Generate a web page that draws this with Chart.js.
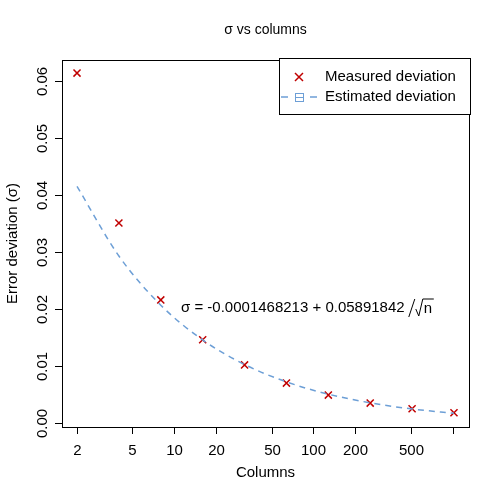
<!DOCTYPE html>
<html>
<head>
<meta charset="utf-8">
<script src="https://cdn.jsdelivr.net/npm/chart.js@4/dist/chart.umd.min.js"></script>
<style>
  html, body { margin: 0; padding: 0; background: #fff; }
  #wrap { width: 500px; height: 500px; }
</style>
</head>
<body>
<div id="wrap"><canvas id="chart" width="500" height="500"></canvas></div>
<script>
const columns = [2, 4, 8, 16, 32, 64, 128, 256, 512, 1024];
const measured = [0.0614, 0.0351, 0.0216, 0.0146, 0.0102, 0.0070, 0.0049, 0.0035, 0.0025, 0.0018];
const estimated = [0.04152, 0.02931, 0.02068, 0.01458, 0.01027, 0.00722, 0.00506, 0.00354, 0.00246, 0.00170];
const xTicks = [2, 5, 10, 20, 50, 100, 200, 500, 1000];
const xTickLabels = ['2', '5', '10', '20', '50', '100', '200', '500', ''];
const yTicks = [0, 0.01, 0.02, 0.03, 0.04, 0.05, 0.06];
const yTickLabels = ['0.00', '0.01', '0.02', '0.03', '0.04', '0.05', '0.06'];

const FONT = '"Liberation Sans", Arial, sans-serif';
const RED = '#c00000';
const BLUE = '#6d9fd6';

// draws box, axes, labels, legend and formula like base R
const decor = {
    id: 'decor',
    afterDraw(chart) {
        const ctx = chart.ctx;
        const a = chart.chartArea;
        const xs = chart.scales.x, ys = chart.scales.y;
        ctx.save();
        ctx.strokeStyle = '#000';
        ctx.fillStyle = '#000';
        ctx.lineWidth = 1;
        ctx.strokeRect(a.left + 0.5, a.top + 0.5, a.right - a.left, a.bottom - a.top);

        // x axis
        ctx.font = '15px ' + FONT;
        ctx.textAlign = 'center';
        ctx.textBaseline = 'top';
        xTicks.forEach((v, i) => {
            const px = Math.round(xs.getPixelForValue(v)) + 0.5;
            ctx.beginPath(); ctx.moveTo(px, a.bottom); ctx.lineTo(px, a.bottom + 7); ctx.stroke();
            ctx.fillText(xTickLabels[i], px, a.bottom + 16);
        });
        // y axis
        yTicks.forEach((v, i) => {
            const py = Math.round(ys.getPixelForValue(v)) + 0.5;
            ctx.beginPath(); ctx.moveTo(a.left, py); ctx.lineTo(a.left - 7, py); ctx.stroke();
            ctx.save();
            ctx.translate(a.left - 20, py);
            ctx.rotate(-Math.PI / 2);
            ctx.textAlign = 'center';
            ctx.textBaseline = 'bottom';
            ctx.fillText(yTickLabels[i], 0, 8);
            ctx.restore();
        });

        // titles
        ctx.textAlign = 'center';
        ctx.textBaseline = 'middle';
        ctx.font = '14px ' + FONT;
        ctx.fillText('σ vs columns', (a.left + a.right) / 2, 30);
        ctx.font = '15px ' + FONT;
        ctx.fillText('Columns', (a.left + a.right) / 2, 473);
        ctx.save();
        ctx.translate(13, (a.top + a.bottom) / 2);
        ctx.rotate(-Math.PI / 2);
        ctx.fillText('Error deviation (σ)', 0, 0);
        ctx.restore();

        // formula
        ctx.textAlign = 'left';
        ctx.font = '15px ' + FONT;
        const txt = 'σ = -0.0001468213 + 0.05891842 ';
        const tx = 181, ty = 308;
        ctx.fillText(txt, tx, ty);
        let x = tx + ctx.measureText(txt).width;
        ctx.beginPath();
        ctx.moveTo(x, ty + 9); ctx.lineTo(x + 6, ty - 9); ctx.stroke();
        x += 7;
        ctx.beginPath();
        ctx.moveTo(x, ty + 1); ctx.lineTo(x + 3, ty + 8); ctx.lineTo(x + 7, ty - 9);
        ctx.lineTo(x + 18, ty - 9); ctx.stroke();
        ctx.fillText('n', x + 8, ty + 1);

        // legend
        const lx = 279, ly = 58, lw = 191, lh = 56;
        ctx.fillStyle = '#fff';
        ctx.fillRect(lx, ly, lw, lh);
        ctx.strokeStyle = '#000';
        ctx.strokeRect(lx + 0.5, ly + 0.5, lw, lh);
        ctx.fillStyle = '#000';
        ctx.textBaseline = 'middle';
        ctx.fillText('Measured deviation', 325, 77);
        ctx.fillText('Estimated deviation', 325, 97);
        ctx.strokeStyle = RED; ctx.lineWidth = 1.5;
        ctx.beginPath();
        ctx.moveTo(295, 73); ctx.lineTo(303, 81);
        ctx.moveTo(303, 73); ctx.lineTo(295, 81);
        ctx.stroke();
        ctx.strokeStyle = BLUE; ctx.lineWidth = 1.5;
        ctx.beginPath();
        ctx.moveTo(281, 97); ctx.lineTo(288, 97);
        ctx.moveTo(310, 97); ctx.lineTo(317, 97);
        ctx.stroke();
        ctx.lineWidth = 1;
        ctx.strokeRect(295.5, 93.5, 8, 8);
        ctx.beginPath(); ctx.moveTo(295.5, 97.5); ctx.lineTo(303.5, 97.5); ctx.stroke();
        ctx.restore();
    }
};

new Chart(document.getElementById('chart'), {
    type: 'scatter',
    data: {
        datasets: [
            {
                label: 'Estimated deviation',
                data: columns.map((c, i) => ({ x: c, y: estimated[i] })),
                showLine: true,
                borderColor: BLUE,
                borderWidth: 1.5,
                borderDash: [6, 5],
                pointRadius: 0,
                cubicInterpolationMode: 'monotone',
                tension: 0.4
            },
            {
                label: 'Measured deviation',
                data: columns.map((c, i) => ({ x: c, y: measured[i] })),
                pointStyle: 'crossRot',
                pointRadius: 5,
                borderColor: RED,
                borderWidth: 1.5,
                backgroundColor: RED
            }
        ]
    },
    options: {
        responsive: false,
        animation: false,
        devicePixelRatio: 1,
        layout: { padding: { left: 62, right: 31, top: 60, bottom: 73 } },
        plugins: { legend: { display: false }, tooltip: { enabled: false } },
        scales: {
            x: { type: 'logarithmic', min: 1.56, max: 1313, display: false },
            y: { type: 'linear', min: -0.0007, max: 0.0637, display: false }
        }
    },
    plugins: [decor]
});
</script>
</body>
</html>
